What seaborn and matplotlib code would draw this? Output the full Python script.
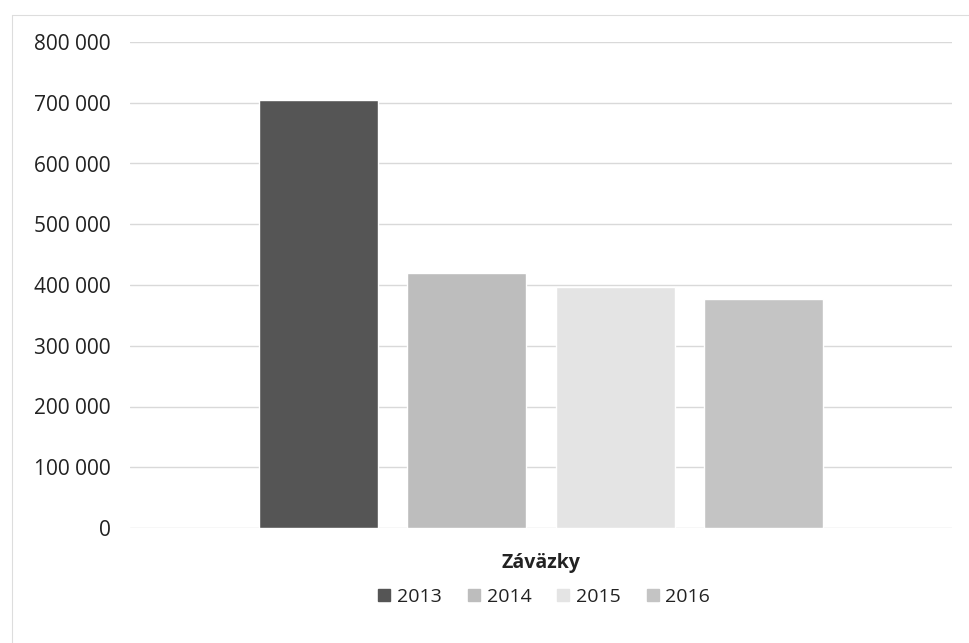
import matplotlib
matplotlib.use("Agg")
import matplotlib.pyplot as plt
import seaborn as sns
import pandas as pd
from matplotlib.lines import Line2D
from matplotlib.ticker import FuncFormatter

categories = ["Záväzky"]
years = ["2013", "2014", "2015", "2016"]
values = [705000, 419000, 397000, 377000]
colors = ["#555555", "#bdbdbd", "#e4e4e4", "#c4c4c4"]
yticks = [0, 100000, 200000, 300000, 400000, 500000, 600000, 700000, 800000]

df = pd.DataFrame({"cat": categories * len(years), "year": years, "val": values})

sns.set_theme(style="white")
plt.rcParams["font.family"] = ["Open Sans", "DejaVu Sans"]

fig = plt.figure(figsize=(9.69, 6.43), dpi=100)
ax = fig.add_axes([130 / 969, 1 - 528 / 643, (952 - 130) / 969, (528 - 42) / 643])

sns.barplot(data=df, x="cat", y="val", hue="year", hue_order=years,
            palette=colors, width=0.722, gap=0.2, ax=ax, saturation=1,
            legend=True)

ax.set_xlim(-0.5, 0.5)
ax.set_ylim(0, 800000)
ax.set_yticks(yticks)
ax.yaxis.set_major_formatter(FuncFormatter(lambda v, p: f"{int(v):,}".replace(",", " ")))
ax.grid(axis="y", color="#d9d9d9", linewidth=1)
ax.set_axisbelow(True)
for s in ax.spines.values():
    s.set_visible(False)
ax.tick_params(axis="y", length=0, pad=14, labelsize=15, labelcolor="#222222")
ax.tick_params(axis="x", length=0, pad=18, labelsize=14)
for t in ax.get_xticklabels():
    t.set_fontweight("bold")
    t.set_color("#222222")
ax.set_xlabel("")
ax.set_ylabel("")

leg = ax.get_legend()
if leg is not None:
    leg.remove()
handles = [Line2D([0], [0], marker="s", linestyle="", markersize=8,
                  markerfacecolor=c, markeredgecolor=c) for c in colors]
fig.legend(handles, years, loc="center", bbox_to_anchor=(544 / 969, 1 - 597 / 643),
           ncol=4, frameon=False, fontsize=14, handlelength=0.7,
           handletextpad=0.3, columnspacing=1.3, labelcolor="#222222")

fig.add_artist(Line2D([12 / 969, 1.0], [1 - 15 / 643, 1 - 15 / 643],
                      transform=fig.transFigure, color="#dddddd", linewidth=0.8))
fig.add_artist(Line2D([12 / 969, 12 / 969], [0.0, 1 - 15 / 643],
                      transform=fig.transFigure, color="#dddddd", linewidth=0.8))

fig.savefig("out.png", dpi=100)
